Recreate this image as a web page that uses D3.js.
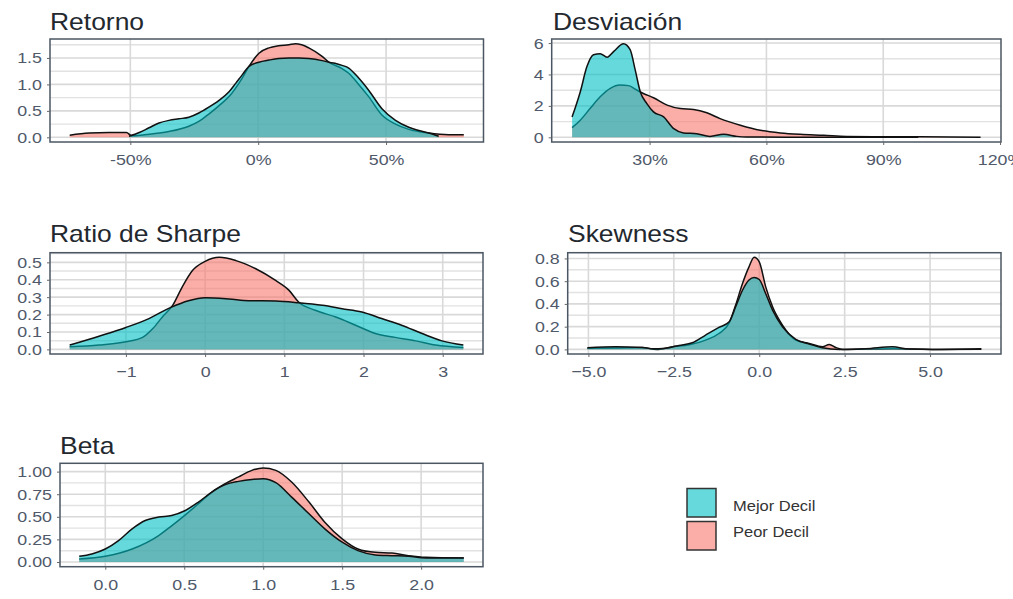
<!DOCTYPE html>
<html>
<head>
<meta charset="utf-8">
<script src="https://cdn.jsdelivr.net/npm/d3@7"></script>
<style>
  body { margin: 0; background: #fff; }
  text { font-family: "Liberation Sans", Arial, sans-serif; }
</style>
</head>
<body>
<div id="chart"></div>
<script>
// Density curves: [x, density]
const retornoMejor = [[-50.5,0.02],[-46.5,0.09],[-42.7,0.18],[-38.8,0.27],[-34.9,0.32],[-31,0.35],[-27.1,0.38],[-23.2,0.46],[-19.3,0.57],[-15.3,0.70],[-11.4,0.86],[-8.8,1.02],[-6.25,1.18],[-3.6,1.34],[0.3,1.42],[4.2,1.46],[8,1.49],[12,1.50],[16,1.50],[19.8,1.49],[25,1.45],[27.6,1.42],[30,1.40],[32.8,1.36],[35.4,1.31],[39.3,1.12],[43.2,0.89],[48.4,0.54],[53.7,0.32],[58.9,0.19],[62.8,0.13],[66.7,0.08],[70.6,0.02]];
const retornoPeor = [[-73.7,0.04],[-66.1,0.08],[-58.3,0.09],[-51.5,0.09],[-49.5,0.03],[-46,0.04],[-42.7,0.06],[-34.9,0.11],[-27.1,0.21],[-23.2,0.30],[-19.3,0.44],[-15.3,0.60],[-11.4,0.77],[-6.25,1.12],[-3.6,1.34],[0.3,1.59],[4.2,1.69],[8,1.73],[12,1.75],[14.6,1.77],[17,1.75],[19.8,1.69],[25,1.53],[27.6,1.42],[32.8,1.30],[35.4,1.21],[39.3,1.0],[43.2,0.77],[48.4,0.42],[53.7,0.25],[58.9,0.15],[66.7,0.08],[74.5,0.05],[80.4,0.05]];

const desvMejor = [[10.1,1.30],[12.2,2.9],[13.9,4.5],[15.6,5.26],[17.3,5.32],[19.1,5.1],[20.8,5.47],[23.3,5.96],[25.0,5.58],[26.3,4.29],[27.6,2.9],[29.3,2.15],[31.0,1.62],[33.6,1.3],[36.2,0.55],[38.7,0.28],[42.1,0.23],[45.5,0.06],[49.0,0.19],[52.4,0.06],[54.9,0.02],[65,0.01],[80,0.01],[99,0.01]];
const desvPeor = [[10.1,0.62],[12.2,1.09],[14.7,1.83],[17.3,2.58],[19.9,3.12],[22.4,3.33],[24.6,3.29],[26.7,3.01],[28.4,2.79],[31.0,2.52],[34.5,2.05],[37.9,1.83],[41.3,1.77],[44.7,1.56],[48.1,1.19],[53.3,0.77],[58.4,0.45],[63.6,0.28],[68.7,0.19],[74.7,0.13],[80.6,0.06],[89.2,0.04],[99,0.03],[115,0.01]];

const sharpeMejor = [[-1.71,0.025],[-1.34,0.076],[-1.0,0.126],[-0.71,0.177],[-0.44,0.24],[-0.21,0.28],[0,0.297],[0.30,0.29],[0.55,0.28],[0.89,0.278],[1.18,0.268],[1.48,0.253],[1.73,0.234],[1.98,0.215],[2.23,0.177],[2.48,0.139],[2.74,0.091],[2.99,0.049],[3.26,0.025]];
const sharpePeor = [[-1.71,0.015],[-1.34,0.025],[-1.0,0.044],[-0.79,0.069],[-0.66,0.12],[-0.54,0.186],[-0.41,0.253],[-0.29,0.358],[-0.16,0.453],[0,0.506],[0.18,0.529],[0.39,0.51],[0.64,0.463],[0.89,0.396],[1.06,0.339],[1.18,0.272],[1.39,0.225],[1.65,0.186],[1.9,0.139],[2.15,0.091],[2.4,0.069],[2.66,0.049],[2.91,0.025],[3.26,0.011]];

const skewMejor = [[-5.03,0.014],[-4.2,0.023],[-3.42,0.017],[-3.13,0.005],[-2.74,0.01],[-2.35,0.035],[-1.96,0.058],[-1.57,0.126],[-1.18,0.193],[-0.88,0.243],[-0.69,0.375],[-0.49,0.52],[-0.3,0.61],[-0.15,0.633],[0,0.615],[0.19,0.49],[0.39,0.345],[0.68,0.199],[1.07,0.088],[1.46,0.047],[1.85,0.014],[2.34,0.0],[3.12,0.005],[3.9,0.023],[4.38,0.003],[5.07,0.0],[6.5,0.002]];
const skewPeor = [[-5.03,0.01],[-4.2,0.013],[-3.42,0.017],[-3.0,0.0],[-2.54,0.023],[-2.05,0.04],[-1.57,0.082],[-1.18,0.14],[-0.88,0.233],[-0.69,0.39],[-0.49,0.58],[-0.3,0.726],[-0.15,0.81],[0,0.77],[0.19,0.55],[0.39,0.375],[0.68,0.214],[1.07,0.082],[1.46,0.053],[1.85,0.023],[2.05,0.044],[2.24,0.017],[2.44,0],[3.12,0.003],[3.9,0.005],[5.07,0],[6.5,0.006]];

const betaMejor = [[-0.165,0.063],[-0.085,0.089],[0,0.144],[0.084,0.237],[0.17,0.367],[0.253,0.459],[0.338,0.497],[0.42,0.515],[0.507,0.57],[0.59,0.663],[0.675,0.774],[0.76,0.856],[0.844,0.892],[0.928,0.914],[1.0,0.922],[1.08,0.878],[1.18,0.718],[1.29,0.533],[1.39,0.367],[1.5,0.219],[1.6,0.126],[1.71,0.078],[1.815,0.07],[1.92,0.063],[2.03,0.044],[2.27,0.044]];
const betaPeor = [[-0.165,0.033],[0,0.063],[0.17,0.144],[0.338,0.293],[0.42,0.4],[0.507,0.522],[0.59,0.644],[0.675,0.774],[0.76,0.867],[0.844,0.941],[0.928,1.014],[1.0,1.04],[1.08,1.014],[1.18,0.885],[1.29,0.663],[1.39,0.44],[1.5,0.256],[1.6,0.144],[1.71,0.107],[1.815,0.1],[1.92,0.07],[2.03,0.052],[2.27,0.044]];

// Tick values
const retornoXTicks = [-50, 0, 50];
const retornoYTicks = [0, 0.5, 1, 1.5];
const desvXTicks = [30, 60, 90, 120];
const desvYTicks = [0, 2, 4, 6];
const sharpeXTicks = [-1, 0, 1, 2, 3];
const sharpeYTicks = [0, 0.1, 0.2, 0.3, 0.4, 0.5];
const skewXTicks = [-5, -2.5, 0, 2.5, 5];
const skewYTicks = [0, 0.2, 0.4, 0.6, 0.8];
const betaXTicks = [0, 0.5, 1, 1.5, 2];
const betaYTicks = [0, 0.25, 0.5, 0.75, 1];

const seriesNames = ["Mejor Decil", "Peor Decil"];

// Layout of each facet (box = left, top, right, bottom)
const panels = [
  { title: "Retorno", mejor: retornoMejor, peor: retornoPeor, xTicks: retornoXTicks, yTicks: retornoYTicks,
    xFmt: (d) => d + "%", yFmt: d3.format(".1f"), box: [50, 39, 483.5, 142], titleAt: [50, 30] },
  { title: "Desviación", mejor: desvMejor, peor: desvPeor, xTicks: desvXTicks, yTicks: desvYTicks,
    xFmt: (d) => d + "%", yFmt: d3.format("d"), box: [551.7, 39, 1001, 142], titleAt: [553, 30] },
  { title: "Ratio de Sharpe", mejor: sharpeMejor, peor: sharpePeor, xTicks: sharpeXTicks, yTicks: sharpeYTicks,
    xFmt: d3.format("d"), yFmt: d3.format(".1f"), box: [50, 252.7, 483, 354], titleAt: [50, 241.5] },
  { title: "Skewness", mejor: skewMejor, peor: skewPeor, xTicks: skewXTicks, yTicks: skewYTicks,
    xFmt: d3.format(".1f"), yFmt: d3.format(".1f"), box: [567.7, 252.7, 1001, 354], titleAt: [568, 241.5] },
  { title: "Beta", mejor: betaMejor, peor: betaPeor, xTicks: betaXTicks, yTicks: betaYTicks,
    xFmt: d3.format(".1f"), yFmt: d3.format(".2f"), box: [60, 463.3, 483, 566.7], titleAt: [60, 454] },
];

const fillColor = { "Mejor Decil": "#00BFC4", "Peor Decil": "#F8766D" };
const stretch = "scale(1.15,1)"; // text in the picture looks a bit widened

let svg = d3
  .select("#chart")
  .append("svg")
  .attr("width", 1013)
  .attr("height", 599);

panels.forEach((p) => {
  let [left, top, right, bottom] = p.box;
  let all = p.mejor.concat(p.peor);

  // ggplot-like 5% expansion
  let xExt = d3.extent(all, (d) => d[0]);
  let xPad = (xExt[1] - xExt[0]) * 0.05;
  let x = d3.scaleLinear().domain([xExt[0] - xPad, xExt[1] + xPad]).range([left, right]);
  let yMax = d3.max(all, (d) => d[1]);
  let y = d3.scaleLinear().domain([-yMax * 0.05, yMax * 1.05]).range([bottom, top]);

  let g = svg.append("g");

  // minor horizontal gridlines
  let step = p.yTicks[1] - p.yTicks[0];
  let minor = d3.range(p.yTicks.length + 1)
    .map((i) => p.yTicks[0] + (i - 0.5) * step)
    .filter((v) => v > y.domain()[0] && v < y.domain()[1]);

  g.selectAll(".minor")
    .data(minor)
    .join("line")
    .attr("x1", left).attr("x2", right)
    .attr("y1", (d) => y(d)).attr("y2", (d) => y(d))
    .attr("stroke", "#e2e2e2")
    .attr("stroke-width", 1.4);

  g.selectAll(".hmajor")
    .data(p.yTicks)
    .join("line")
    .attr("x1", left).attr("x2", right)
    .attr("y1", (d) => y(d)).attr("y2", (d) => y(d))
    .attr("stroke", "#d9d9d9")
    .attr("stroke-width", 1.6);

  g.selectAll(".vmajor")
    .data(p.xTicks.filter((d) => x(d) < right - 1))
    .join("line")
    .attr("x1", (d) => x(d)).attr("x2", (d) => x(d))
    .attr("y1", top).attr("y2", bottom)
    .attr("stroke", "#d9d9d9")
    .attr("stroke-width", 1.6);

  let area = d3.area()
    .x((d) => x(d[0]))
    .y0(y(0))
    .y1((d) => y(d[1]))
    .curve(d3.curveMonotoneX);
  let line = d3.line()
    .x((d) => x(d[0]))
    .y((d) => y(d[1]))
    .curve(d3.curveMonotoneX);

  // Peor first, Mejor drawn on top
  [["Peor Decil", p.peor], ["Mejor Decil", p.mejor]].forEach(([name, vals]) => {
    g.append("path")
      .attr("d", area(vals))
      .attr("fill", fillColor[name])
      .attr("fill-opacity", 0.6);
    g.append("path")
      .attr("d", line(vals))
      .attr("fill", "none")
      .attr("stroke", "#111")
      .attr("stroke-width", 1.5);
  });

  // panel border
  g.append("rect")
    .attr("x", left).attr("y", top)
    .attr("width", right - left).attr("height", bottom - top)
    .attr("fill", "none")
    .attr("stroke", "#4b5663")
    .attr("stroke-width", 1.5);

  // axes
  let xAxis = g.append("g")
    .attr("transform", `translate(0,${bottom})`)
    .call(d3.axisBottom(x).tickValues(p.xTicks).tickFormat(p.xFmt).tickSize(3).tickPadding(9));
  let yAxis = g.append("g")
    .attr("transform", `translate(${left},0)`)
    .call(d3.axisLeft(y).tickValues(p.yTicks).tickFormat(p.yFmt).tickSize(3).tickPadding(4));

  [xAxis, yAxis].forEach((ax) => {
    ax.select(".domain").remove();
    ax.selectAll(".tick line").attr("stroke", "#666");
    ax.selectAll(".tick text")
      .attr("transform", stretch)
      .style("font-size", "15.5px")
      .style("fill", "#4f596a");
  });

  // title
  svg.append("text")
    .attr("transform", `translate(${p.titleAt[0]},${p.titleAt[1]}) ${stretch}`)
    .style("font-size", "23px")
    .style("fill", "#23282f")
    .text(p.title);
});

// Legend
let legend = svg.selectAll(".legend")
  .data(seriesNames)
  .join("g")
  .attr("class", "legend")
  .attr("transform", (d, i) => `translate(687,${488.5 + i * 33})`);

legend.append("rect")
  .attr("width", 29)
  .attr("height", 28.5)
  .attr("fill", (d) => fillColor[d])
  .attr("fill-opacity", 0.6)
  .attr("stroke", "#333")
  .attr("stroke-width", 1.5);

legend.append("text")
  .attr("transform", (d, i) => `translate(46,${i === 0 ? 22 : 15}) scale(1.1,1)`)
  .style("font-size", "15px")
  .style("fill", "#333")
  .text((d) => d);
</script>
</body>
</html>
